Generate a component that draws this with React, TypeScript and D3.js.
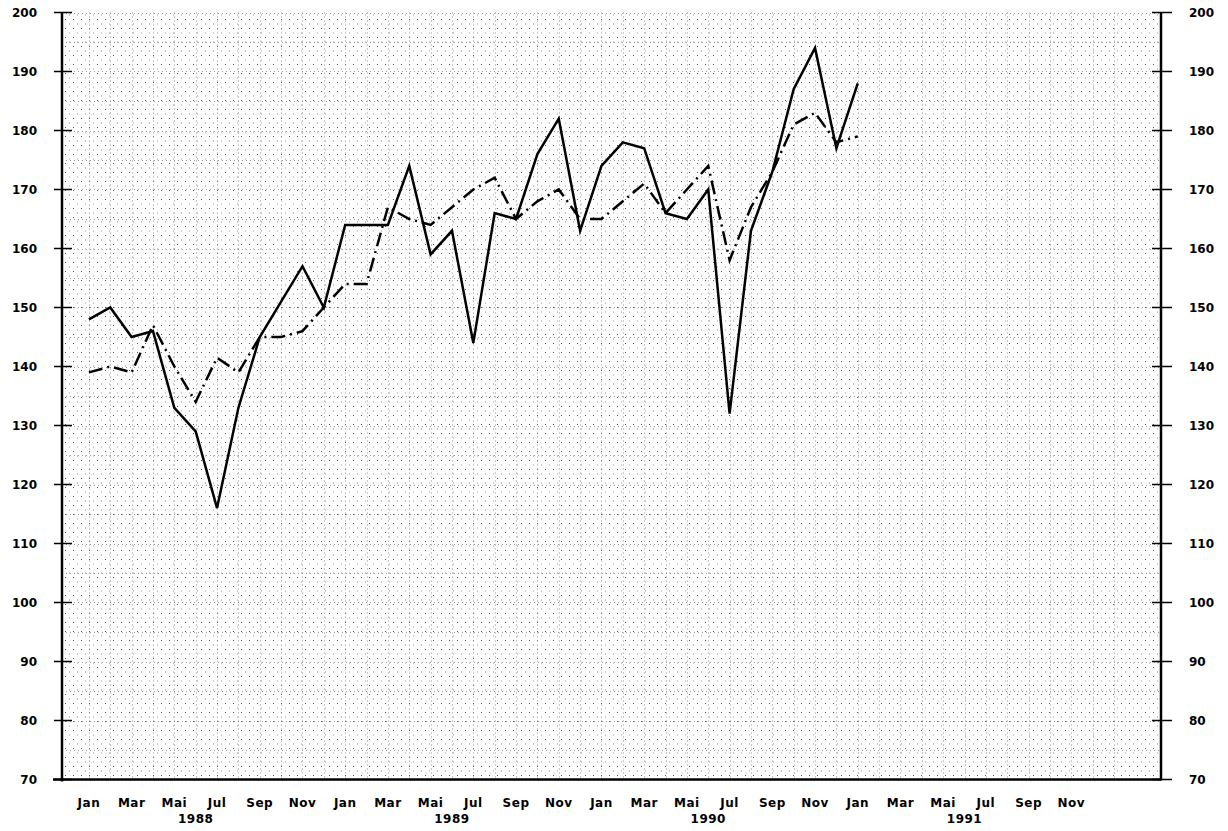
import React, { useEffect, useRef } from 'react';
import * as d3 from 'd3';

// Monthly values, Jan 1988 .. Jan 1991
const actual: number[] = [
  148, 150, 145, 146, 133, 129, 116, 133, 145, 151, 157, 150,
  164, 164, 164, 174, 159, 163, 144, 166, 165, 176, 182, 163,
  174, 178, 177, 166, 165, 170, 132, 163, 173, 187, 194, 177,
  188,
];

const trend: number[] = [
  139, 140, 139, 147, 140, 134, 141.5, 139, 145, 145, 146, 150,
  154, 154, 167, 165, 164, 167, 170, 172, 165, 168, 170, 165,
  165, 168, 171, 166, 170, 174, 158, 167, 173, 181, 183, 178,
  179,
];

const monthLabels: string[] = ['Jan', 'Mar', 'Mai', 'Jul', 'Sep', 'Nov'];
const years: number[] = [1988, 1989, 1990, 1991];
const yTicks: number[] = [70, 80, 90, 100, 110, 120, 130, 140, 150, 160, 170, 180, 190, 200];

const FONT = '"DejaVu Sans", Arial, sans-serif';

const Chart: React.FC = () => {
  const svgRef = useRef<SVGSVGElement>(null);

  useEffect(() => {
    if (!svgRef.current) return;
    const svg = d3.select(svgRef.current);
    svg.selectAll('*').remove();

    const plot = { left: 62, right: 1161, top: 12.5, bottom: 779.5 };

    // month index 0 = Jan 1988
    const x = d3.scaleLinear().domain([-1.26, 50.2]).range([plot.left, plot.right]);
    const y = d3.scaleLinear().domain([70, 200]).range([plot.bottom, plot.top]);

    // ### Stipple background
    const defs = svg.append('defs');
    const pat = defs
      .append('pattern')
      .attr('id', 'stipple')
      .attr('patternUnits', 'userSpaceOnUse')
      .attr('width', 8)
      .attr('height', 9);
    pat.append('rect').attr('x', 1).attr('y', 1).attr('width', 1).attr('height', 1).attr('fill', '#555');
    pat.append('rect').attr('x', 5).attr('y', 5.5).attr('width', 1).attr('height', 1).attr('fill', '#999');

    svg
      .append('rect')
      .attr('x', plot.left)
      .attr('y', plot.top)
      .attr('width', plot.right - plot.left)
      .attr('height', plot.bottom - plot.top)
      .attr('fill', 'url(#stipple)');

    // ### Grid
    const grid = svg.append('g').attr('stroke', '#999').attr('stroke-width', 1).attr('stroke-dasharray', '1,3');
    d3.range(70, 201, 5).forEach(v => {
      grid
        .append('line')
        .attr('x1', plot.left)
        .attr('x2', plot.right)
        .attr('y1', Math.round(y(v)) + 0.5)
        .attr('y2', Math.round(y(v)) + 0.5);
    });
    d3.range(0, 49, 1).forEach(m => {
      grid
        .append('line')
        .attr('x1', Math.round(x(m)) + 0.5)
        .attr('x2', Math.round(x(m)) + 0.5)
        .attr('y1', plot.top)
        .attr('y2', plot.bottom);
    });

    // ### Axes
    const axes = svg.append('g').attr('stroke', '#000');
    axes.append('line').attr('x1', plot.left).attr('x2', plot.left).attr('y1', plot.top).attr('y2', plot.bottom + 2).attr('stroke-width', 2.5);
    axes.append('line').attr('x1', plot.right).attr('x2', plot.right).attr('y1', plot.top).attr('y2', plot.bottom + 1).attr('stroke-width', 2.5);
    axes.append('line').attr('x1', plot.left - 9).attr('x2', plot.right).attr('y1', plot.bottom).attr('y2', plot.bottom).attr('stroke-width', 2.5);

    yTicks.forEach(v => {
      axes.append('line').attr('x1', plot.left - 8).attr('x2', plot.left + 10).attr('y1', y(v)).attr('y2', y(v)).attr('stroke-width', 1.5);
      axes.append('line').attr('x1', plot.right - 9).attr('x2', plot.right + 11).attr('y1', y(v)).attr('y2', y(v)).attr('stroke-width', 1.5);
    });

    const labels = svg.append('g').attr('font-family', FONT).attr('font-weight', 'bold').attr('fill', '#000');
    yTicks.forEach(v => {
      labels.append('text').attr('x', 37).attr('y', y(v) + 4.5).attr('text-anchor', 'end').attr('font-size', '12px').text(v);
      labels.append('text').attr('x', 1189).attr('y', y(v) + 4.5).attr('text-anchor', 'start').attr('font-size', '12px').text(v);
    });

    years.forEach((yr, i) => {
      monthLabels.forEach((m, j) => {
        labels
          .append('text')
          .attr('x', x(i * 12 + j * 2))
          .attr('y', 807)
          .attr('text-anchor', 'middle')
          .attr('font-size', '12px')
          .attr('letter-spacing', '0.5px')
          .text(m);
      });
      labels
        .append('text')
        .attr('x', x(i * 12 + 5))
        .attr('y', 823)
        .attr('text-anchor', 'middle')
        .attr('font-size', '12px')
        .attr('letter-spacing', '0.5px')
        .text(yr);
    });

    // ### Lines
    const line = d3
      .line<number>()
      .x((_, i) => x(i))
      .y(d => y(d));

    svg
      .append('path')
      .datum(trend)
      .attr('fill', 'none')
      .attr('stroke', '#000')
      .attr('stroke-width', 2.5)
      .attr('stroke-dasharray', '14,5,2,5')
      .attr('d', line);

    svg
      .append('path')
      .datum(actual)
      .attr('fill', 'none')
      .attr('stroke', '#000')
      .attr('stroke-width', 2.5)
      .attr('d', line);
  }, []);

  return (
    <svg
      ref={svgRef}
      width={1228}
      height={831}
      style={{ position: 'absolute', left: 0, top: 0, background: '#fff' }}
    />
  );
};

export default function App() {
  return <Chart />;
}
